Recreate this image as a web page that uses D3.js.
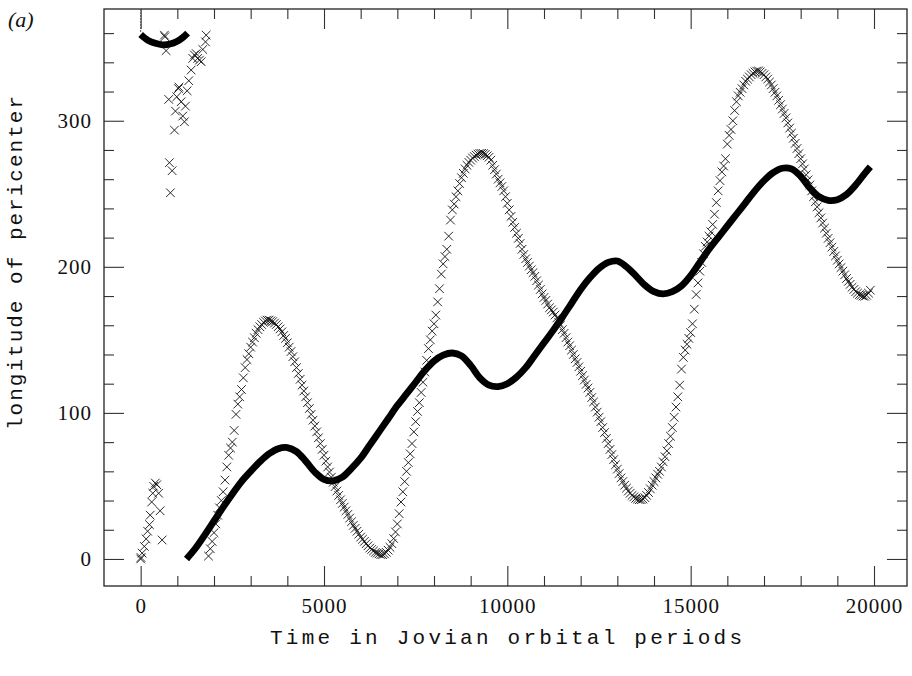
<!DOCTYPE html>
<html>
<head>
<meta charset="utf-8">
<script src="https://cdn.jsdelivr.net/npm/d3@7"></script>
<style>
  body { margin: 0; background: #fff; }
  svg { display: block; }
</style>
</head>
<body>
<svg id="chart" width="912" height="676"></svg>
<script>
// Longitude of pericenter vs time (Jovian orbital periods).
// Series A: thick dense curve. Series B: 'x' markers.

// --- series A, thick curve -------------------------------------
// short piece near 360 before it wraps round to 0
const aTopTime = [0, 200, 400, 600, 800, 1000, 1150, 1280]
const aTopLon  = [359, 355, 353, 352, 352.5, 354.5, 357, 360]
// thin lead-in at t = 0 above the curve
const leadTime = [0, 0]
const leadLon  = [376.5, 360.5]

const aTime = [1250, 1500, 1750, 2000, 2250, 2500, 2750, 3000, 3250, 3500,
  3750, 4000, 4250, 4500, 4750, 5000, 5250, 5500, 5750, 6000,
  6250, 6500, 6750, 7000, 7250, 7500, 7750, 8000, 8250, 8500,
  8750, 9000, 9250, 9500, 9750, 10000, 10250, 10500, 10750, 11000,
  11250, 11500, 11750, 12000, 12250, 12500, 12750, 13000, 13250, 13500,
  13750, 14000, 14250, 14500, 14750, 15000, 15250, 15500, 15750, 16000,
  16250, 16500, 16750, 17000, 17250, 17500, 17750, 18000, 18250, 18500,
  18750, 19000, 19250, 19500, 19750, 19900]
const aLon = [0, 7.5, 16.5, 26, 35.5, 44.5, 53, 60, 66.5, 72,
  75.5, 76.3, 73.5, 67, 59.5, 54.5, 53.5, 56, 62, 69,
  78, 87, 96, 105, 113, 121, 129, 135.5, 139.5, 141,
  139, 132.5, 124, 119, 118, 120, 124.5, 131, 139.5, 148,
  156.5, 165.5, 175, 184.5, 192.5, 199, 203, 204, 200, 194,
  187.5, 183, 181.5, 183, 187, 194, 203, 212, 220, 228,
  236, 244, 252, 259, 264.5, 267.5, 267, 262, 254, 248,
  245.5, 246, 249.5, 256, 264, 268.5]

// --- series B, crosses -----------------------------------------
// scattered start (longitude badly defined while e is small)
const bEarlyTime = [0, 10, 40, 100, 150, 190, 240, 260, 300, 330,
  355, 400, 440, 490, 530, 585, 648, 660, 694, 765,
  784, 811, 858, 921, 948, 984, 1030, 1045, 1104, 1148,
  1194, 1221, 1267, 1312, 1377, 1421, 1467, 1514, 1557, 1604,
  1650, 1694, 1768, 1787, 1850, 1900, 1950]
const bEarlyLon = [0, 1, 4, 8.6, 13.7, 19, 23.5, 30, 39, 45,
  49.7, 52, 50.8, 45, 33, 13, 358.6, 357.5, 348, 314.6,
  271.3, 250.7, 265.8, 293.6, 306.6, 316.4, 322, 323, 313, 303.2,
  299.3, 310, 320.5, 327.4, 334.7, 342.7, 345, 346, 342.7, 341.5,
  340.4, 348.8, 354, 358.6, 2, 7, 12]

// regular output from t = 2000, every 50 periods
const bStart = 2000
const bStep = 50
const bLon = [
  /* 2000 */ 18, 24, 30, 35, 40, 46, 54, 63, 71, 76, 80, 88, 99, 106, 111, 116, 124, 131, 136.5, 140.5,
  /* 3000 */ 145, 148.5, 151.5, 154.5, 157, 159, 160.5, 162, 163, 163.5, 163.5, 163, 162.5, 161.5, 160.5, 159, 157.5, 155.5, 153, 151,
  /* 4000 */ 148, 145, 142, 138.5, 135, 131, 127, 123, 119, 115, 111, 107, 103, 99, 95, 91, 87, 83, 79, 75,
  /* 5000 */ 71, 67, 63, 59.5, 56, 52.5, 49.5, 46.5, 43.5, 40.5, 38, 35.5, 33, 30.5, 28, 25.5, 23, 21, 19, 17,
  /* 6000 */ 15, 13.5, 12, 10.5, 9, 7.5, 6.5, 5.5, 4.5, 4, 3.5, 3, 3, 3.5, 4.5, 6, 8, 10.5, 14, 18.5,
  /* 7000 */ 24, 31, 39, 46, 53, 60, 66, 72, 79, 87, 94, 101, 107, 114, 121, 128, 136, 144, 150, 156,
  /* 8000 */ 161, 167, 176, 185, 195, 202, 207, 212, 221, 232, 239, 243, 248, 252, 257, 261, 264, 267, 269.5, 271.5,
  /* 9000 */ 273, 274.5, 275.5, 276.5, 277.2, 277.6, 277.7, 277.5, 277, 276, 275, 273, 269.5, 266.5, 263.5, 260, 257.5, 255, 252, 248,
  /* 10000 */ 243.5, 239, 234.5, 230.5, 227, 223, 219.5, 216, 212, 208.5, 205.5, 203, 200.5, 198, 196, 193.5, 190.5, 187.5, 184.5, 181.5,
  /* 11000 */ 179, 177, 174.5, 172, 170.5, 169, 167, 165, 162, 160, 157, 154.5, 151.5, 148.5, 146, 143, 140, 137, 134.5, 131.5,
  /* 12000 */ 128.5, 125.5, 122.5, 119.5, 117, 114, 110.5, 107.5, 104, 100.5, 97, 94, 90, 86.5, 82.5, 79, 75, 71.5, 68, 64.5,
  /* 13000 */ 61.5, 58.5, 55.5, 53, 50.5, 48.5, 46.5, 45, 43.5, 42.5, 41.5, 41, 40.6, 40.6, 41, 42, 43.5, 45.5, 48, 50.5,
  /* 14000 */ 53, 55.5, 58, 60, 63, 66.5, 70, 74, 79, 84, 90, 97, 104, 111, 119, 130, 138, 143, 147, 151,
  /* 15000 */ 155, 161, 171, 181, 189, 197, 203, 209, 214, 217, 221, 224, 229, 236, 244, 252, 259, 265, 269, 274,
  /* 16000 */ 284, 290, 294, 300, 307, 313, 317, 319.5, 322, 324.5, 327, 328.5, 330, 331.5, 332.5, 333.5, 334, 334, 333.5, 332.5,
  /* 17000 */ 331.5, 330, 328.5, 326.5, 324.5, 322, 319.5, 317, 314, 311, 308, 305, 302, 298.5, 295, 291.5, 288, 284.5, 281, 277.5,
  /* 18000 */ 274, 270.5, 267, 263, 259.5, 256, 252, 248, 244.5, 241, 237, 233.5, 230, 226.5, 223, 219.5, 216.5, 213.5, 210.5, 207.5,
  /* 19000 */ 204.5, 202, 199.5, 197, 194.5, 192, 190, 188, 186, 184.5, 183, 182, 181, 180.5, 180, 179.8, 180.5, 182, 184
]

// --- axes ------------------------------------------------------
const xMajor = [0, 5000, 10000, 15000, 20000]
const xMinor = d3.range(1000, 20001, 1000).filter(v => v % 5000 !== 0)
const yMajor = [0, 100, 200, 300]
const yMinor = d3.range(20, 361, 20).filter(v => v % 100 !== 0)

const xTitle = 'Time in Jovian orbital periods'
const yTitle = 'longitude of pericenter'
const panelTag = '(a)'

// ---------------------------------------------------------------
const box = { left: 104, right: 907, top: 9, bottom: 586 }
const svg = d3.select('#chart')

const x = d3.scaleLinear().domain([-1000, 20900]).range([box.left, box.right])
const y = d3.scaleLinear().domain([-18.5, 376.5]).range([box.bottom, box.top])

const serif = '"Liberation Serif", "Times New Roman", serif'
const mono = '"Liberation Mono", "Courier New", monospace'
const inkTick = '#333'

svg.append('defs').append('clipPath').attr('id', 'plotclip')
  .append('rect')
  .attr('x', box.left).attr('y', box.top)
  .attr('width', box.right - box.left).attr('height', box.bottom - box.top)

// ticks on all four sides, pointing inward
function addAxis(axisFn, values, size, transform, labels) {
  const ax = axisFn.tickValues(values).tickSizeInner(-size).tickSizeOuter(0)
    .tickPadding(12)
    .tickFormat(labels ? d3.format('d') : '')
  const g = svg.append('g').attr('transform', transform).call(ax)
  g.select('.domain').remove()
  g.selectAll('.tick line').attr('stroke', inkTick).attr('stroke-width', 1.1)
  g.selectAll('.tick text')
    .attr('fill', '#111')
    .style('font-family', serif)
    .style('font-size', '21px')
    .style('letter-spacing', '1px')
  return g
}

addAxis(d3.axisBottom(x), xMajor, 20, `translate(0,${box.bottom})`, true)
addAxis(d3.axisBottom(x), xMinor, 10, `translate(0,${box.bottom})`, false)
addAxis(d3.axisTop(x), xMajor, 20, `translate(0,${box.top})`, false)
addAxis(d3.axisTop(x), xMinor, 10, `translate(0,${box.top})`, false)
addAxis(d3.axisLeft(y), yMajor, 20, `translate(${box.left},0)`, true)
addAxis(d3.axisLeft(y), yMinor, 10, `translate(${box.left},0)`, false)
addAxis(d3.axisRight(y), yMajor, 20, `translate(${box.right},0)`, false)
addAxis(d3.axisRight(y), yMinor, 10, `translate(${box.right},0)`, false)

// frame
svg.append('rect')
  .attr('x', box.left).attr('y', box.top)
  .attr('width', box.right - box.left).attr('height', box.bottom - box.top)
  .attr('fill', 'none').attr('stroke', '#222').attr('stroke-width', 1.3)

const plot = svg.append('g').attr('clip-path', 'url(#plotclip)')

// series A
const thick = d3.line().x(d => x(d[0])).y(d => y(d[1])).curve(d3.curveCatmullRom)
plot.append('path')
  .datum(d3.zip(leadTime, leadLon))
  .attr('d', d3.line().x(d => x(d[0])).y(d => y(d[1])))
  .attr('fill', 'none').attr('stroke', '#555').attr('stroke-width', 1)
  .attr('stroke-dasharray', '2,1')
for (const seg of [d3.zip(aTopTime, aTopLon), d3.zip(aTime, aLon)]) {
  plot.append('path')
    .datum(seg)
    .attr('d', thick)
    .attr('fill', 'none').attr('stroke', '#000')
    .attr('stroke-width', 6.8).attr('stroke-linecap', 'butt')
}

// series B
const bPoints = d3.zip(bEarlyTime, bEarlyLon)
  .concat(bLon.map((v, i) => [bStart + i * bStep, v]))
const cross = d3.symbol().type(d3.symbolX).size(50)
plot.append('g').selectAll('path')
  .data(bPoints)
  .join('path')
  .attr('transform', d => `translate(${x(d[0])},${y(d[1])})`)
  .attr('d', cross)
  .attr('fill', 'none').attr('stroke', '#111').attr('stroke-width', 0.9)

// titles
svg.append('text')
  .attr('x', 506).attr('y', 644)
  .attr('text-anchor', 'middle')
  .attr('textLength', 472).attr('lengthAdjust', 'spacing')
  .style('font-family', mono).style('font-size', '21px').attr('fill', '#111')
  .text(xTitle)

svg.append('text')
  .attr('transform', `translate(22,263) rotate(-90)`)
  .attr('text-anchor', 'middle')
  .attr('textLength', 334).attr('lengthAdjust', 'spacing')
  .style('font-family', mono).style('font-size', '21px').attr('fill', '#111')
  .text(yTitle)

svg.append('text')
  .attr('x', 8).attr('y', 27)
  .style('font-family', serif).style('font-size', '22px').style('font-style', 'italic')
  .attr('fill', '#111')
  .text(panelTag)
</script>
</body>
</html>
